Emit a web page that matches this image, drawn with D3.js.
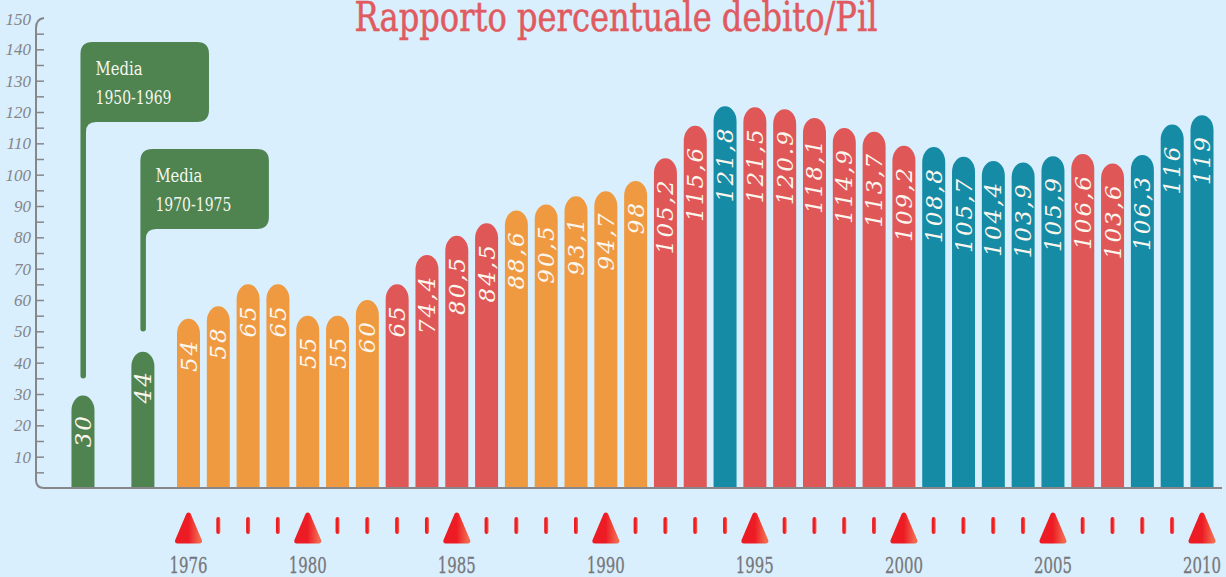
<!DOCTYPE html>
<html><head><meta charset="utf-8">
<script src="https://cdn.jsdelivr.net/npm/d3@7/dist/d3.min.js"></script>
<style>html,body{margin:0;padding:0;background:#d9effd;overflow:hidden}svg{display:block}</style>
</head><body><svg id="c" width="1226" height="577"></svg>
<script>
const years = d3.range(1976, 2011);
const values = [54,58,65,65,55,55,60,65,74.4,80.5,84.5,88.6,90.5,93.1,94.7,98,105.2,115.6,121.8,121.5,120.9,118.1,114.9,113.7,109.2,108.8,105.7,104.4,103.9,105.9,106.6,103.6,106.3,116,119];
const valueLabels = ["54","58","65","65","55","55","60","65","74,4","80,5","84,5","88,6","90,5","93,1","94,7","98","105,2","115,6","121,8","121,5","120.9","118,1","114,9","113,7","109,2","108,8","105,7","104,4","103,9","105,9","106,6","103,6","106,3","116","119"];
const groups = ["o","o","o","o","o","o","o","r","r","r","r","o","o","o","o","o","r","r","t","r","r","r","r","r","r","t","t","t","t","t","r","r","t","t","t"];
const mediaLabels = ["1950-1969","1970-1975"];
const mediaValues = [30,44];
const mediaSlots = [1972.46,1974.47];
const mediaStemEnd = [35,50];
const labelledYears = [1976,1980,1985,1990,1995,2000,2005,2010];
const colors = {o:"#ef9a41",r:"#df5757",t:"#168ba5",g:"#4f8350"};

const svg = d3.select("#c");
const x = d3.scaleLinear().domain([1976,2010]).range([188.5,1202]);
const y = d3.scaleLinear().domain([0,150]).range([488,18]);
const bw = 23, slab = "'DejaVu Serif Condensed','DejaVu Serif',serif", ital = "'Liberation Serif',serif", num = "'DejaVu Serif',serif";

svg.append("rect").attr("width",1226).attr("height",577).attr("fill","#d9effd");
const defs = svg.append("defs");
const g = defs.append("linearGradient").attr("id","tri");
g.append("stop").attr("offset","50%").attr("stop-color","#ed1c24");
g.append("stop").attr("offset","100%").attr("stop-color","#f2694f");

svg.append("text").attr("x",616).attr("y",30.5).attr("text-anchor","middle")
  .attr("font-family",slab).attr("font-size",41).attr("fill","#e05a60").attr("stroke","#e05a60").attr("stroke-width",0.5)
  .attr("textLength",523).attr("lengthAdjust","spacingAndGlyphs").text("Rapporto percentuale debito/Pil");

// axis
const axis = d3.axisLeft(y).tickValues(d3.range(5,150,5)).tickSizeInner(-8).tickSizeOuter(0).tickPadding(5)
  .tickFormat(d=>d%10===0?d:"");
const ag = svg.append("g").attr("transform","translate(36,0)").call(axis);
ag.select(".domain").remove();
ag.selectAll("line").attr("stroke","#87878b").attr("stroke-width",1.5);
ag.selectAll("text").attr("font-family",ital).attr("font-style","italic").attr("font-size",17).attr("fill","#85858a");
svg.append("text").attr("x",31).attr("y",y(150)+7).attr("text-anchor","end").attr("font-family",ital)
  .attr("font-style","italic").attr("font-size",17).attr("fill","#85858a").text("150");
svg.append("path").attr("fill","none").attr("stroke","#87878b").attr("stroke-width",2)
  .attr("d",`M44,${y(150)} Q36,${y(150)+1} 36,${y(150)+10} L36,${y(0)-8} Q36,${y(0)} 44,${y(0)} L1222,${y(0)}`);

function barPath(cx, top, base){
  const r = bw/2, ry = 15;
  return `M${cx-r},${base}V${top+ry}A${r},${ry} 0 0 1 ${cx+r},${top+ry}V${base}Z`;
}
function label(cx, top, s){
  svg.append("text").attr("transform",`translate(${cx+8},${top+20}) rotate(-90)`)
    .attr("text-anchor","end").attr("font-family",num).attr("font-style","italic")
    .attr("font-size",23).attr("letter-spacing",2).attr("fill","#fbf6ee").text(s);
}
// callouts
const boxTop = [42,149];
mediaLabels.forEach((lab,i)=>{
  const cx = x(mediaSlots[i]), left = cx-2.5, h = 80, w = 128.5, r = 12, sw = 5.5;
  const t = boxTop[i], b = t+h, end = y(mediaStemEnd[i]);
  svg.append("path").attr("fill",colors.g).attr("d",
    `M${left},${end-2.7}V${t+r}Q${left},${t} ${left+r},${t}H${left+w-r}Q${left+w},${t} ${left+w},${t+r}V${b-r}Q${left+w},${b} ${left+w-r},${b}H${left+sw+10}Q${left+sw},${b} ${left+sw},${b+10}V${end-2.7}A2.75,2.75 0 0 1 ${left},${end-2.7}Z`);
  const tx = svg.append("text").attr("font-family",slab).attr("font-size",18).attr("fill","#f4f7ef");
  tx.append("tspan").attr("x",left+15).attr("y",t+33).attr("textLength",47).attr("lengthAdjust","spacingAndGlyphs").text("Media");
  tx.append("tspan").attr("x",left+15).attr("y",t+62).attr("textLength",76).attr("lengthAdjust","spacingAndGlyphs").text(lab);
});
// media bars
mediaValues.forEach((v,i)=>{
  svg.append("path").attr("fill",colors.g).attr("d",barPath(x(mediaSlots[i]),y(v)+1.5,y(0)-1));
  label(x(mediaSlots[i]),y(v),String(v));
});
// bars
svg.append("g").selectAll("path").data(years).join("path")
  .attr("fill",(d,i)=>colors[groups[i]])
  .attr("d",(d,i)=>barPath(x(d),y(values[i]),y(0)-1));
years.forEach((d,i)=>label(x(d),y(values[i]),valueLabels[i]));

// time marks
years.forEach(d=>{
  const cx = x(d);
  if(labelledYears.includes(d)){
    svg.append("path").attr("fill","url(#tri)").attr("stroke","url(#tri)").attr("stroke-width",5).attr("stroke-linejoin","round")
      .attr("d",`M${cx},515L${cx+11},541H${cx-11}Z`);
    svg.append("text").attr("x",cx).attr("y",573).attr("text-anchor","middle").attr("font-family",slab)
      .attr("font-size",23).attr("fill","#77777b").attr("stroke","#77777b").attr("stroke-width",0.3).attr("textLength",38).attr("lengthAdjust","spacingAndGlyphs").text(d);
  } else {
    svg.append("rect").attr("x",cx-2).attr("y",517).attr("width",4).attr("height",17).attr("rx",2).attr("fill","url(#tri)");
  }
});
</script></body></html>
